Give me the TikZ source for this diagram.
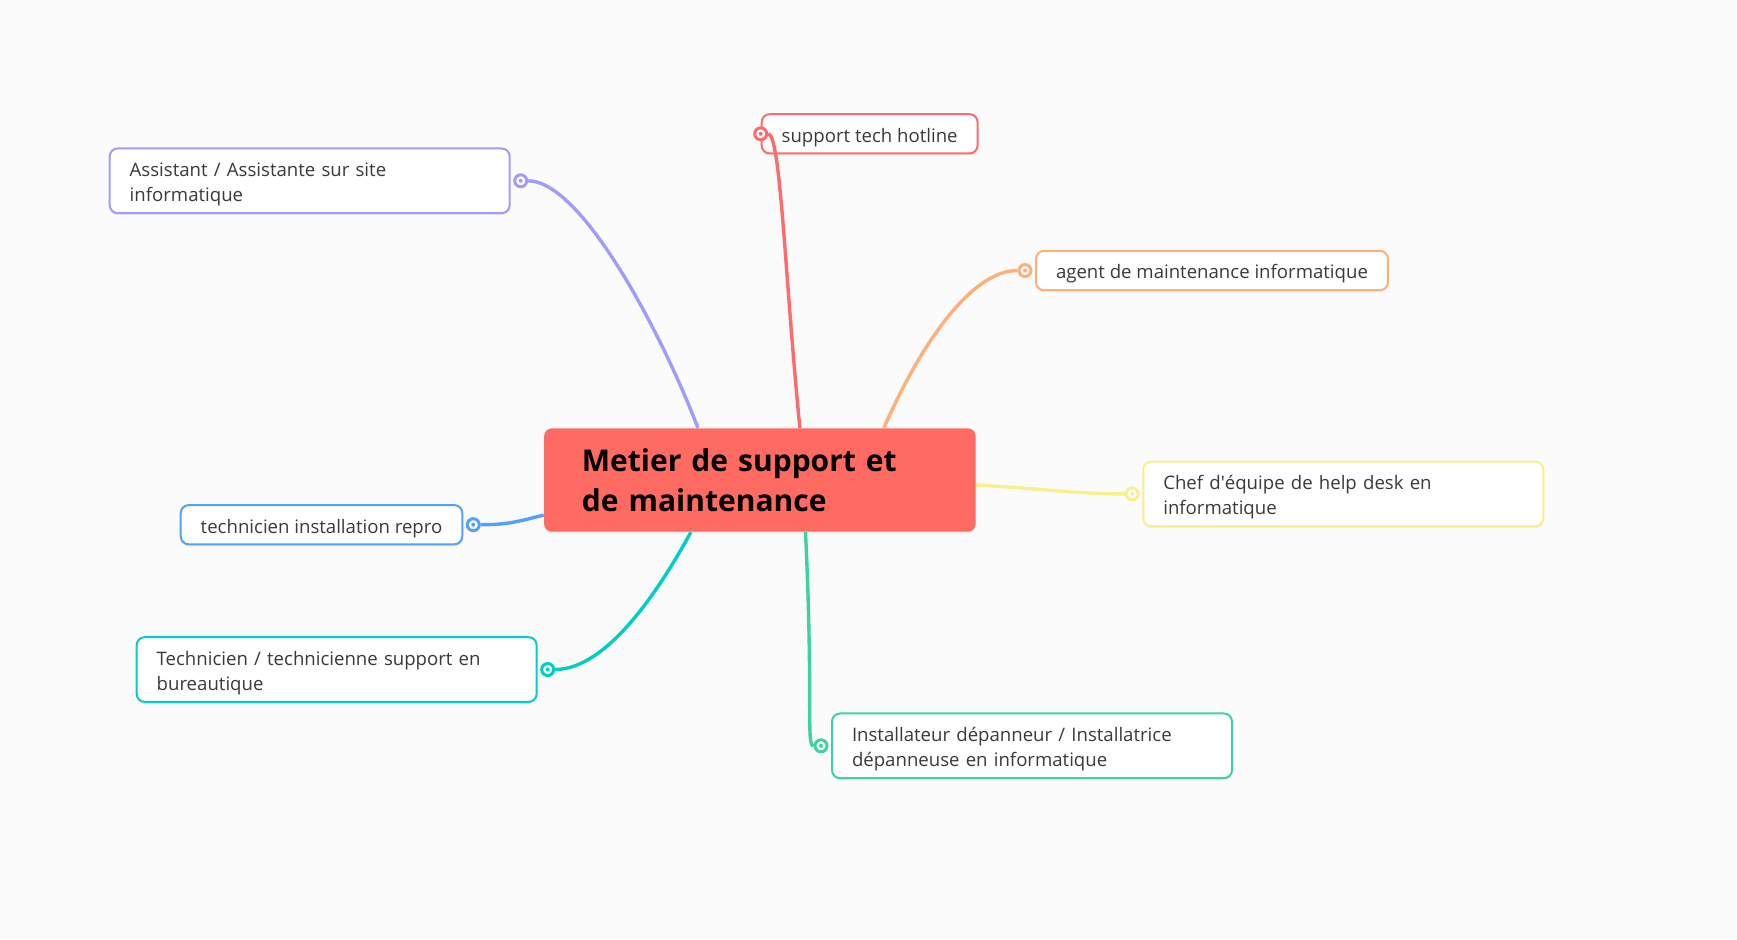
\documentclass[tikz,border=0pt]{standalone}
\usepackage{fontspec}
\setmainfont{Open Sans}
\usepackage{tikz}
\usetikzlibrary{backgrounds,shadows}
\definecolor{bgcol}{HTML}{FBFBFB}
\definecolor{txtcol}{HTML}{3A3A3A}
\definecolor{rootcol}{HTML}{FF6B63}
\definecolor{purp}{HTML}{A29BFE}
\definecolor{redc}{HTML}{FF6B6B}
\definecolor{orng}{HTML}{FFAF7A}
\definecolor{yell}{HTML}{F8F08C}
\definecolor{blue}{HTML}{54A0FF}
\definecolor{teal}{HTML}{00CEC9}
\definecolor{gren}{HTML}{3CD3A0}
\newcommand{\jobstrut}{\lineskiplimit=-6pt\relax\rule[-2.1pt]{0pt}{12.7pt}}
\newcommand{\rootstrut}{\lineskiplimit=-8pt\relax\rule[-4.15pt]{0pt}{20pt}}

\begin{document}
\begin{tikzpicture}[x=0.5pt,y=-0.5pt,
  job/.style={draw=#1, fill=white, rounded corners=4pt, line width=1pt,
    font=\fontsize{9.3}{12.7}\selectfont, text=txtcol, align=left,
    inner xsep=10pt, inner ysep=3.4pt,
    drop shadow={shadow xshift=0pt,shadow yshift=-1pt,opacity=0.12},
    execute at begin node=\jobstrut, execute at end node=\jobstrut},
  wide/.style={text width=180pt},
  root/.style={fill=rootcol, rounded corners=4pt, text width=178pt, align=left,
    inner xsep=18.9pt, inner ysep=5.85pt,
    font=\fontsize{15}{20}\selectfont\bfseries,
    drop shadow={shadow xshift=0pt,shadow yshift=-1pt,opacity=0.12},
    execute at begin node=\rootstrut, execute at end node=\rootstrut},
  dot/.style={circle, draw=#1, fill=white, line width=1.5pt, minimum size=6pt,
    inner sep=0pt,
    path picture={\fill[#1] (path picture bounding box.center) circle (1pt);}},
  branch/.style={draw=#1, line width=1.7pt}
  ]
  \begin{scope}[on background layer]
    \fill[bgcol] (0,0) rectangle (1737,939);
    \node[root] (root) at (759.9,480) {Metier de support et\\de maintenance};
    \node[job=purp, wide, anchor=east] (asst) at (510.7,180.8) {Assistant / Assistante sur site\\informatique};
    \node[job=redc, anchor=west] (sup) at (760.7,133.8) {support tech hotline};
    \node[job=orng, anchor=west] (agent) at (1035,270.5) {agent de maintenance informatique};
    \node[job=yell, wide, anchor=west] (chef) at (1142.3,493.9) {Chef d\textquotesingle équipe de help desk en\\informatique};
    \node[job=gren, wide, anchor=west] (inst) at (831,745.8) {Installateur dépanneur / Installatrice\\dépanneuse en informatique};
    \node[job=blue, anchor=east] (repro) at (463.3,524.7) {technicien installation repro};
    \node[job=teal, wide, anchor=east] (tech) at (537.7,669.5) {Technicien / technicienne support en\\bureautique};
  \end{scope}
  \useasboundingbox (0,0) rectangle (1737,939);

  \node[dot=purp] (d1) at ([xshift=5pt]asst.east) {};
  \node[dot=redc] (d2) at (sup.west) {};
  \node[dot=orng] (d3) at ([xshift=-5pt]agent.west) {};
  \node[dot=yell] (d4) at ([xshift=-5pt]chef.west) {};
  \node[dot=blue] (d5) at ([xshift=5pt]repro.east) {};
  \node[dot=teal] (d6) at ([xshift=5pt]tech.east) {};
  \node[dot=gren] (d7) at ([xshift=-5pt]inst.west) {};

  \draw[branch=purp] ([xshift=-31pt]root.north) .. controls +(-38,-99) and +(60,0) .. (d1);
  \draw[branch=redc] ([xshift=20pt]root.north) .. controls +(-15,-150) and +(20,0) .. (d2);
  \draw[branch=orng] ([xshift=62pt]root.north) .. controls +(35,-80) and +(-55,0) .. (d3);
  \draw[branch=yell] ([yshift=-2.5pt]root.east) .. controls +(60,3) and +(-60,0) .. (d4);
  \draw[branch=blue] ([yshift=-17.5pt]root.west) .. controls +(-30,8) and +(30,0) .. (d5);
  \draw[branch=teal] ([xshift=-34.5pt]root.south) .. controls +(-30,55) and +(60,0) .. (d6);
  \draw[branch=gren] ([xshift=22.8pt]root.south) .. controls +(8,170) and +(-15,0) .. (d7);
\end{tikzpicture}
\end{document}
